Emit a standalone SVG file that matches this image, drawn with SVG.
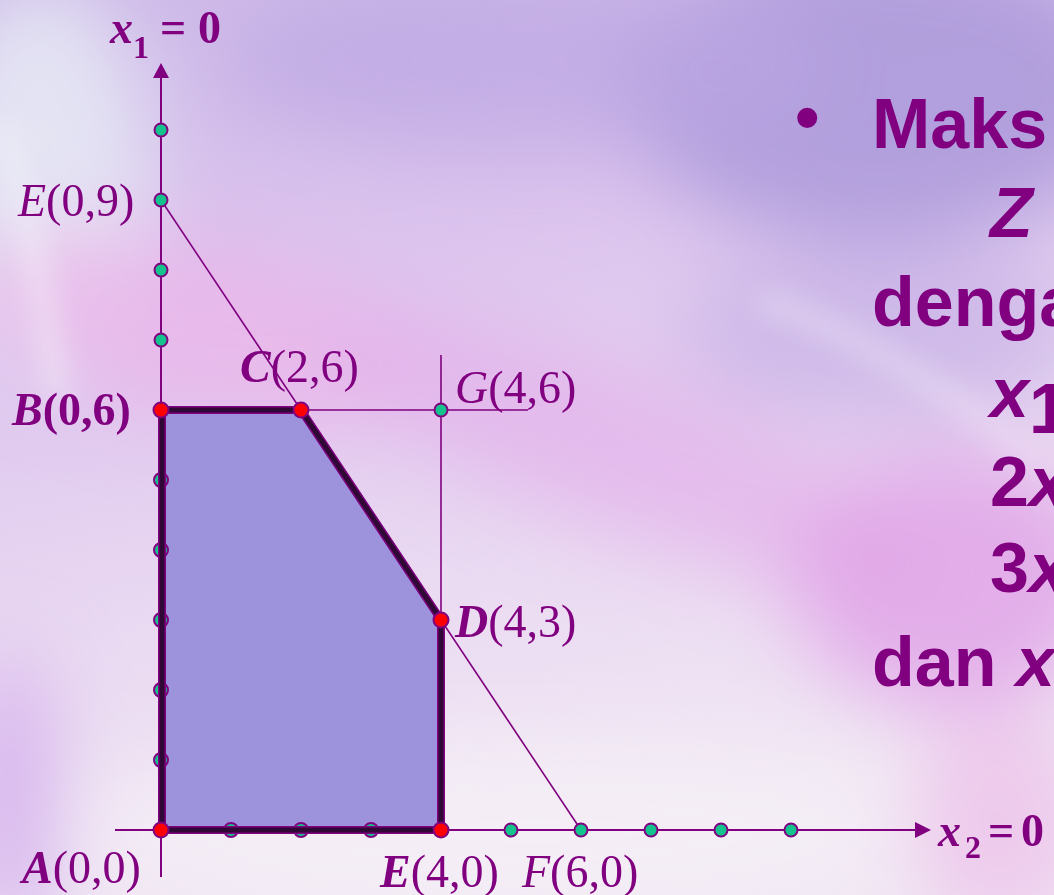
<svg xmlns="http://www.w3.org/2000/svg" width="1054" height="895" viewBox="0 0 1054 895">
<defs>
<linearGradient id="bgbase" x1="0" y1="0" x2="0.25" y2="1">
<stop offset="0" stop-color="#cdb9e8"/>
<stop offset="0.35" stop-color="#dcc4ee"/>
<stop offset="0.7" stop-color="#eadaf2"/>
<stop offset="1" stop-color="#f1e7f4"/>
</linearGradient>
<filter id="blur" x="-50%" y="-50%" width="200%" height="200%"><feGaussianBlur stdDeviation="40"/></filter>
<filter id="blur2" x="-50%" y="-50%" width="200%" height="200%"><feGaussianBlur stdDeviation="14"/></filter>
<style>
.ax{stroke:#800080;stroke-width:2;fill:none}
.thin{stroke:#800080;stroke-width:1.6;fill:none}
.g{fill:#14c28e;stroke:#800080;stroke-width:2}
.r{fill:#ff0000;stroke:#800080;stroke-width:2}
.lbl{font-family:"Liberation Serif","Times New Roman",serif;font-size:46px;fill:#800080}
.bi{font-weight:bold;font-style:italic}
.it{font-style:italic}
.b{font-weight:bold}
.eq{font-family:"Liberation Serif","Times New Roman",serif;font-size:46px;fill:#800080;font-weight:bold}
.sub{font-size:32px}
.rt{font-family:"Liberation Sans",Arial,sans-serif;font-size:70px;font-weight:bold;fill:#800080}
</style>
</defs>
<g id="background">
<rect width="1054" height="895" fill="url(#bgbase)"/>
<g filter="url(#blur)">
<ellipse cx="880" cy="90" rx="260" ry="150" fill="#a896d8" opacity="0.8"/>
<ellipse cx="520" cy="60" rx="300" ry="90" fill="#bca6e2" opacity="0.7"/>
<ellipse cx="40" cy="180" rx="110" ry="200" fill="#e6e8f4" opacity="0.9"/>
<ellipse cx="200" cy="330" rx="240" ry="90" fill="#eab6ea" opacity="0.8" transform="rotate(12 200 330)"/>
<ellipse cx="620" cy="450" rx="330" ry="80" fill="#e3b0ea" opacity="0.7" transform="rotate(22 620 450)"/>
<ellipse cx="950" cy="580" rx="160" ry="130" fill="#e0a4e8" opacity="0.85"/>
<ellipse cx="880" cy="330" rx="200" ry="90" fill="#c6b0e6" opacity="0.7"/>
<ellipse cx="500" cy="830" rx="420" ry="90" fill="#f4eef6" opacity="0.9"/>
<ellipse cx="1000" cy="820" rx="90" ry="110" fill="#ecc2ea" opacity="0.8"/>
<ellipse cx="10" cy="800" rx="40" ry="150" fill="#d2aaec" opacity="0.9"/>
</g>
<g filter="url(#blur2)" opacity="0.5">
<path d="M760 300 C 850 330, 950 390, 1054 470" stroke="#f0e6f6" stroke-width="22" fill="none"/>
<path d="M0 120 C 30 200, 40 300, 60 400" stroke="#f4f4fa" stroke-width="24" fill="none"/>
</g>
</g>
<g id="region">
<polygon points="162,410 301,410 441,620 441,830 162,830" fill="#9d93dc"/>
</g>
<g id="connectors">
<line class="ax" x1="161" y1="877" x2="161" y2="76"/>
<polygon points="161,63 153,78 169,78" fill="#800080"/>
<line class="ax" x1="115" y1="830" x2="916" y2="830"/>
<polygon points="931,830 915,822 915,838" fill="#800080"/>
<line class="thin" x1="161" y1="200" x2="581" y2="830"/>
<line class="thin" x1="301" y1="410" x2="528" y2="410"/>
<line class="thin" x1="441" y1="355" x2="441" y2="830"/>
</g>
<g id="grid-points">
<circle class="g" cx="161" cy="130" r="6.5"/>
<circle class="g" cx="161" cy="270" r="6.5"/>
<circle class="g" cx="161" cy="340" r="6.5"/>
<circle class="g" cx="161" cy="480" r="7"/>
<circle class="g" cx="161" cy="550" r="7"/>
<circle class="g" cx="161" cy="620" r="7"/>
<circle class="g" cx="161" cy="690" r="7"/>
<circle class="g" cx="161" cy="760" r="7"/>
<circle class="g" cx="231" cy="830" r="7"/>
<circle class="g" cx="301" cy="830" r="7"/>
<circle class="g" cx="371" cy="830" r="7"/>
<circle class="g" cx="511" cy="830" r="6.5"/>
<circle class="g" cx="651" cy="830" r="6.5"/>
<circle class="g" cx="721" cy="830" r="6.5"/>
<circle class="g" cx="791" cy="830" r="6.5"/>
</g>
<g id="boundary">
<polygon points="162,410 301,410 441,620 441,830 162,830" fill="none" stroke="#800080" stroke-width="8" stroke-linejoin="round"/>
<polygon points="162,410 301,410 441,620 441,830 162,830" fill="none" stroke="#300836" stroke-width="5" stroke-linejoin="round"/>
</g>
<g id="node-E09"><circle class="g" cx="161" cy="200" r="6.5"/><text class="lbl" x="18" y="216"><tspan class="it">E</tspan>(0,9)</text></g>
<g id="node-B"><circle class="r" cx="161" cy="410" r="7.5"/><text class="lbl b" x="12" y="425" font-size="48"><tspan class="it">B</tspan>(0,6)</text></g>
<g id="node-C"><circle class="r" cx="301" cy="410" r="7.5"/><text class="lbl" x="240" y="382"><tspan class="bi">C</tspan>(2,6)</text></g>
<g id="node-G"><circle class="g" cx="441" cy="410" r="6.5"/><text class="lbl" x="455" y="403"><tspan class="it">G</tspan>(4,6)</text></g>
<g id="node-D"><circle class="r" cx="441" cy="620" r="7.5"/><text class="lbl" x="455" y="637"><tspan class="bi">D</tspan>(4,3)</text></g>
<g id="node-A"><circle class="r" cx="161" cy="830" r="7.5"/><text class="lbl" x="22" y="883" font-size="47"><tspan class="bi">A</tspan>(0,0)</text></g>
<g id="node-E40"><circle class="r" cx="441" cy="830" r="7.5"/><text class="lbl" x="380" y="887"><tspan class="bi">E</tspan>(4,0)</text></g>
<g id="node-F"><circle class="g" cx="581" cy="830" r="6.5"/><text class="lbl" x="522" y="887"><tspan class="it">F</tspan>(6,0)</text></g>
<g id="axis-labels">
<text class="eq" x="110" y="43"><tspan class="it">x</tspan></text>
<text class="eq sub" x="133" y="58">1</text>
<text class="eq" x="160" y="43">=</text>
<text class="eq" x="198" y="43">0</text>
<text class="eq" x="938" y="846"><tspan class="it">x</tspan></text>
<text class="eq sub" x="965" y="858">2</text>
<text class="eq" x="988" y="846">=</text>
<text class="eq" x="1021" y="846">0</text>
</g>
<g id="problem-text">
<text class="rt" x="795" y="141">•</text>
<text class="rt" x="872" y="148">Maks</text>
<text class="rt" x="990" y="237" font-style="italic">Z</text>
<text class="rt" x="872" y="326">denga</text>
<text class="rt" x="990" y="417" font-style="italic">x</text>
<text class="rt" x="1029" y="433" font-size="40">1</text>
<text class="rt" x="990" y="506">2<tspan font-style="italic">x</tspan></text>
<text class="rt" x="990" y="592">3<tspan font-style="italic">x</tspan></text>
<text class="rt" x="872" y="686">dan <tspan font-style="italic">x</tspan></text>
</g>
</svg>
